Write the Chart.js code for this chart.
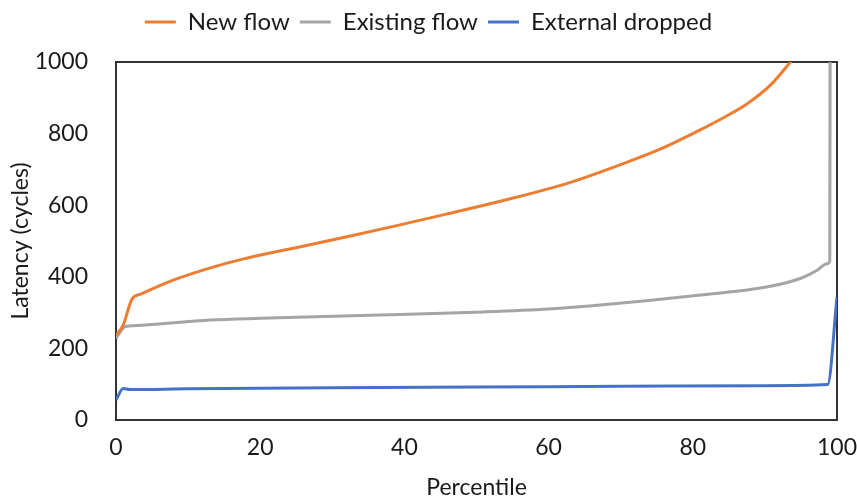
<!DOCTYPE html>
<html>
<head>
<meta charset="utf-8">
<title>Latency percentiles</title>
<script src="https://cdn.jsdelivr.net/npm/chart.js@4.4.0/dist/chart.umd.min.js"></script>
<style>
  html, body { margin: 0; padding: 0; background: #fff; }
</style>
</head>
<body>
<canvas id="chart1" width="857" height="501"></canvas>
<script>
// values (percentile -> latency in cycles)
var newFlowPct = [0, 1, 2.2, 3.5, 5.2, 8.4, 13.1, 17.7, 25.6, 32.5, 39.4, 46, 53.3, 62.6, 71.9, 76.5, 81.1, 84.5, 87.6, 90.8, 93.6, 95];
var newFlowLat = [237, 265, 337, 352, 368, 394, 425, 450, 484, 514, 545, 576, 611, 661, 728, 766, 811, 847, 884, 936, 1001, 1035];

var existingPct = [0, 1.25, 2, 5, 13.1, 20, 33.9, 51, 60, 67.2, 81.1, 90.4, 95, 97.3, 98.5, 99.0, 99.05];
var existingLat = [228, 261, 263, 267, 279, 284, 292, 302, 310, 321, 349, 372, 396, 419, 436, 444, 1200];

var droppedPct = [0, 1.0, 1.9, 10, 30, 50, 70, 90, 98.7, 100];
var droppedLat = [56, 88, 85, 87, 90, 92, 94, 96, 99, 343];

var seriesNames = ["New flow", "Existing flow", "External dropped"];
var seriesColours = ["#ED7D31", "#A5A5A5", "#4472C4"];

var xTicks = { min: 0, max: 100, step: 20 };
var yTicks = { min: 0, max: 1000, step: 200 };

var textColour = "#1a1a1a";
var boxColour = "#333333";

Chart.defaults.font.family = "Lato, 'Open Sans', sans-serif";
Chart.defaults.color = textColour;

function toPoints(xs, ys) {
    var pts = [];
    for (var i = 0; i < xs.length; i++) {
        pts.push({ x: xs[i], y: ys[i] });
    }
    return pts;
}

function makeDataset(i, xs, ys) {
    return {
        label: seriesNames[i],
        data: toPoints(xs, ys),
        borderColor: seriesColours[i],
        backgroundColor: seriesColours[i],
        borderWidth: 3,
        pointRadius: 0,
        cubicInterpolationMode: "monotone",
        clip: 0
    };
}

//plain numbers, no thousands separator
function plainTick(value) {
    return String(value);
}

var ctx = document.getElementById("chart1");
var chart = new Chart(ctx, {
    type: "line",
    data: {
        datasets: [
            makeDataset(0, newFlowPct, newFlowLat),
            makeDataset(1, existingPct, existingLat),
            makeDataset(2, droppedPct, droppedLat)
        ]
    },
    options: {
        responsive: false,
        animation: false,
        layout: { padding: 0 },
        plugins: {
            tooltip: { enabled: false },
            legend: {
                position: "top",
                labels: {
                    font: { size: 24 },
                    color: textColour,
                    boxWidth: 31,
                    boxHeight: 3,
                    padding: 10,
                    generateLabels: function (c) {
                        var items = Chart.defaults.plugins.legend.labels.generateLabels(c);
                        items.forEach(function (it) {
                            it.lineWidth = 0;
                            it.fillStyle = it.strokeStyle;
                        });
                        return items;
                    }
                }
            }
        },
        scales: {
            x: {
                type: "linear",
                position: "bottom",
                min: xTicks.min,
                max: xTicks.max,
                ticks: { stepSize: xTicks.step, font: { size: 23 }, padding: 6, maxRotation: 0, callback: plainTick },
                grid: { display: false },
                border: { display: true, color: boxColour, width: 2 },
                title: { display: true, text: "Percentile", font: { size: 23 }, padding: { top: 2, bottom: 0 } },
                afterFit: function (s) {
                    s.height = 81;
                    s.paddingLeft = 0;
                    s.paddingRight = 0;
                }
            },
            y: {
                type: "linear",
                position: "left",
                min: yTicks.min,
                max: yTicks.max,
                ticks: { stepSize: yTicks.step, font: { size: 23 }, padding: 20, callback: plainTick },
                grid: { display: false },
                border: { display: true, color: boxColour, width: 2 },
                title: { display: true, text: "Latency (cycles)", font: { size: 23 }, padding: { top: 7, bottom: 0 } },
                afterFit: function (s) { s.width = 116; }
            },
            // top and right axes only close the plot box
            x2: {
                type: "linear",
                position: "top",
                min: xTicks.min,
                max: xTicks.max,
                ticks: { display: false },
                grid: { display: false },
                border: { display: true, color: boxColour, width: 2 },
                afterFit: function (s) { s.height = 18; }
            },
            y2: {
                type: "linear",
                position: "right",
                min: yTicks.min,
                max: yTicks.max,
                ticks: { display: false },
                grid: { display: false },
                border: { display: true, color: boxColour, width: 2 },
                afterFit: function (s) { s.width = 20; }
            }
        }
    }
});
</script>
</body>
</html>
